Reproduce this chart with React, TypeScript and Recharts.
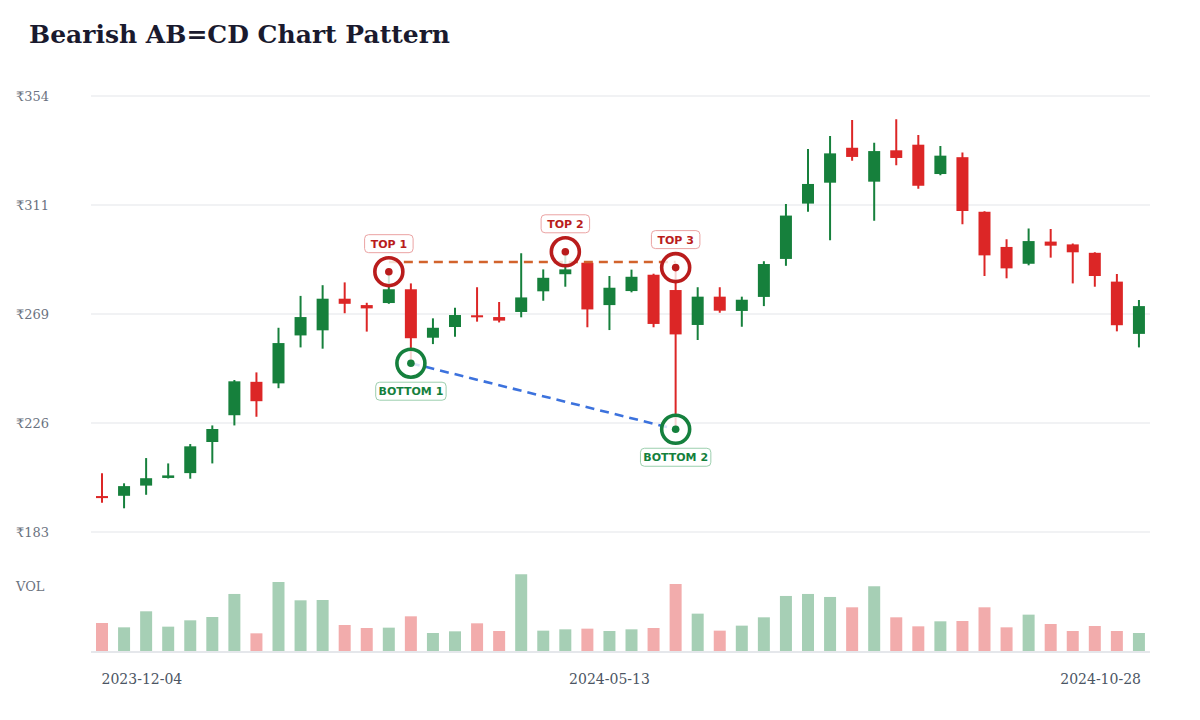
import React from 'react';
import {
  ComposedChart,
  Bar,
  XAxis,
  YAxis,
  CartesianGrid,
  ReferenceLine,
  ReferenceDot,
  Cell,
} from 'recharts';

const dates = [
  '2023-12-04', '2023-12-11', '2023-12-18', '2023-12-25', '2024-01-01', '2024-01-08',
  '2024-01-15', '2024-01-22', '2024-01-29', '2024-02-05', '2024-02-12', '2024-02-19',
  '2024-02-26', '2024-03-04', '2024-03-11', '2024-03-18', '2024-03-25', '2024-04-01',
  '2024-04-08', '2024-04-15', '2024-04-22', '2024-04-29', '2024-05-06', '2024-05-13',
  '2024-05-20', '2024-05-27', '2024-06-03', '2024-06-10', '2024-06-17', '2024-06-24',
  '2024-07-01', '2024-07-08', '2024-07-15', '2024-07-22', '2024-07-29', '2024-08-05',
  '2024-08-12', '2024-08-19', '2024-08-26', '2024-09-02', '2024-09-09', '2024-09-16',
  '2024-09-23', '2024-09-30', '2024-10-07', '2024-10-14', '2024-10-21', '2024-10-28',
];

const opens = [
  197.1, 197.2, 201.2, 204.2, 206.1, 218.3, 228.8, 241.9, 241.3, 260.1, 262.1, 274.5,
  272.0, 272.8, 278.2, 259.2, 263.4, 268.0, 267.3, 269.3, 277.4, 284.1, 288.6, 272.0,
  277.5, 283.9, 277.9, 264.2, 275.3, 269.7, 275.2, 290.1, 311.8, 320.0, 333.7, 320.4,
  332.7, 334.9, 323.4, 330.0, 308.6, 294.8, 288.2, 296.9, 295.8, 292.5, 281.2, 260.7,
];
const highs = [
  206.0, 202.1, 212.0, 209.9, 217.5, 224.8, 242.6, 245.6, 263.1, 275.6, 279.8, 280.9,
  272.9, 285.1, 280.5, 266.8, 271.0, 279.0, 273.2, 292.3, 286.0, 292.9, 289.0, 283.4,
  285.9, 284.3, 286.7, 279.0, 279.0, 275.3, 289.2, 311.6, 333.2, 338.3, 344.6, 335.7,
  344.9, 338.7, 334.4, 331.8, 308.8, 297.8, 302.0, 301.8, 296.2, 292.7, 284.2, 274.0,
];
const lows = [
  194.5, 192.3, 197.6, 204.0, 203.9, 209.9, 224.8, 228.2, 239.4, 255.4, 254.9, 268.8,
  261.6, 272.5, 249.2, 256.7, 259.6, 265.5, 265.2, 267.2, 273.7, 279.2, 263.3, 262.2,
  277.0, 263.3, 223.3, 258.3, 269.0, 263.5, 271.6, 287.4, 308.6, 297.4, 328.6, 305.1,
  326.8, 317.6, 322.9, 303.7, 283.4, 282.5, 287.6, 290.6, 280.5, 279.2, 261.7, 255.4,
];
const closes = [
  196.3, 201.0, 204.1, 205.2, 216.6, 223.4, 242.1, 234.3, 257.1, 267.3, 274.5, 272.5,
  270.7, 278.2, 259.0, 263.1, 268.1, 267.2, 265.9, 275.0, 282.7, 286.0, 270.3, 278.8,
  283.1, 264.6, 260.5, 275.3, 269.8, 274.1, 288.1, 307.1, 319.5, 331.5, 330.1, 332.4,
  329.7, 318.8, 330.6, 308.9, 291.5, 286.4, 297.1, 295.3, 292.7, 283.4, 264.1, 271.6,
];
const volumes = [
  8.7, 7.4, 12.2, 7.6, 9.5, 10.5, 17.4, 5.6, 21.0, 15.5, 15.6, 8.1,
  7.2, 7.3, 10.7, 5.7, 6.2, 8.6, 6.3, 23.3, 6.4, 6.8, 7.0, 6.3,
  6.8, 7.2, 20.4, 11.5, 6.4, 7.9, 10.4, 16.8, 17.4, 16.5, 13.4, 19.7,
  10.4, 7.7, 9.2, 9.3, 13.4, 7.4, 11.2, 8.4, 6.3, 7.8, 6.3, 5.7,
];

const priceTicks = [183, 225.75, 268.5, 311.25, 354];
const dateTicks = ['2023-12-04', '2024-05-13', '2024-10-28'];

const topMarkers = [
  { date: '2024-03-04', price: 285.1, label: 'TOP 1' },
  { date: '2024-04-29', price: 292.9, label: 'TOP 2' },
  { date: '2024-06-03', price: 286.7, label: 'TOP 3' },
];
const bottomMarkers = [
  { date: '2024-03-11', price: 249.2, label: 'BOTTOM 1' },
  { date: '2024-06-03', price: 223.3, label: 'BOTTOM 2' },
];
const resistanceLevel = 288.9;

const UP = '#16803c';
const DOWN = '#dc2626';

const data = dates.map((date, i) => ({
  date,
  open: opens[i],
  high: highs[i],
  low: lows[i],
  close: closes[i],
  vol: volumes[i],
}));

const FONT = '"DejaVu Serif", serif';

const CandleShape = (props: any) => {
  const { x, y, width, height, payload } = props;
  if (!payload) return null;
  const { open, close, high, low } = payload;
  const top = Math.min(y, y + height);
  const h = Math.abs(height);
  const ratio = h / (high - low);
  const cx = x + width / 2;
  const yO = top + (high - open) * ratio;
  const yC = top + (high - close) * ratio;
  const color = close >= open ? UP : DOWN;
  const bodyTop = Math.min(yO, yC);
  const bodyH = Math.max(Math.abs(yO - yC), 2);
  return (
    <g>
      <line x1={cx} x2={cx} y1={top} y2={top + h} stroke={color} strokeWidth={2} />
      <rect x={x} y={bodyTop} width={width} height={bodyH} fill={color} />
    </g>
  );
};

const makeMarker = (label: string, color: string, border: string, below: boolean) => (p: any) => {
  const { cx, cy } = p;
  if (cx == null || cy == null) return null;
  const w = label.length * 7.3 + 12;
  const ly = below ? cy + 28 : cy - 28;
  return (
    <g>
      <circle cx={cx} cy={cy} r={14} fill="#ffffff" fillOpacity={0.8} stroke={color} strokeWidth={3.6} />
      <circle cx={cx} cy={cy} r={3.8} fill={color} />
      <rect x={cx - w / 2} y={ly - 9} width={w} height={18} rx={4} ry={4} fill="#ffffff" stroke={border} strokeWidth={1} />
      <text
        x={cx}
        y={ly}
        dy={4}
        textAnchor="middle"
        fontFamily='"DejaVu Sans", sans-serif'
        fontWeight={700}
        fontSize={11}
        fill={color}
      >
        {label}
      </text>
    </g>
  );
};

const XTick = (props: any) => {
  const { x, y, payload } = props;
  const v = payload.value;
  const anchor = v === dateTicks[0] ? 'start' : v === dateTicks[dateTicks.length - 1] ? 'end' : 'middle';
  const dx = anchor === 'start' ? -0.5 : anchor === 'end' ? 2 : 0;
  return (
    <text x={x + dx} y={y} dy={32} textAnchor={anchor} fontFamily={FONT} fontSize={14} fill="#4b5563">
      {v}
    </text>
  );
};

const YTick = (props: any) => {
  const { y, payload } = props;
  return (
    <text x={16} y={y} dy={5} textAnchor="start" fontFamily={FONT} fontSize={13} fill="#6b7280">
      {'₹' + Math.round(payload.value)}
    </text>
  );
};

export default function App() {
  return (
    <div style={{ position: 'absolute', left: 0, top: 0, width: 1200, height: 720, background: '#fff' }}>
      <div
        style={{
          position: 'absolute',
          left: 29,
          top: 20,
          fontFamily: FONT,
          fontWeight: 700,
          fontSize: 25,
          lineHeight: '30px',
          color: '#1a1a2e',
          whiteSpace: 'nowrap',
        }}
      >
        Bearish AB=CD Chart Pattern
      </div>
      <div
        style={{
          position: 'absolute',
          left: 16,
          top: 579,
          fontFamily: FONT,
          fontSize: 13,
          lineHeight: '16px',
          color: '#6b7280',
        }}
      >
        VOL
      </div>
      <ComposedChart
        width={1200}
        height={720}
        data={data}
        margin={{ top: 96, right: 50, bottom: 28, left: 16 }}
        style={{ position: 'absolute', left: 0, top: 0 }}
      >
        <CartesianGrid vertical={false} yAxisId="price" xAxisId="main" stroke="#eceef1" strokeWidth={1.5} />
        <XAxis
          xAxisId="main"
          dataKey="date"
          ticks={dateTicks}
          interval={0}
          tick={<XTick />}
          tickLine={false}
          tickSize={0}
          tickMargin={0}
          height={40}
          axisLine={{ stroke: '#e5e7eb', strokeWidth: 2 }}
        />
        <XAxis xAxisId="p" dataKey="date" hide />
        <YAxis
          yAxisId="price"
          domain={[135.94, 354]}
          ticks={priceTicks}
          allowDataOverflow
          width={75}
          tick={<YTick />}
          tickLine={false}
          axisLine={false}
        />
        <YAxis yAxisId="vol" domain={[0, 166.7]} allowDataOverflow hide />
        <Bar xAxisId="main" yAxisId="vol" dataKey="vol" barSize={12} isAnimationActive={false}>
          {data.map((d, i) => (
            <Cell key={i} fill={d.close >= d.open ? UP : DOWN} fillOpacity={0.38} />
          ))}
        </Bar>
        <Bar
          xAxisId="p"
          yAxisId="price"
          dataKey={(d: any) => [d.low, d.high]}
          barSize={12}
          shape={<CandleShape />}
          isAnimationActive={false}
        />
        <ReferenceLine
          xAxisId="p"
          yAxisId="price"
          segment={[
            { x: topMarkers[0].date, y: resistanceLevel },
            { x: topMarkers[2].date, y: resistanceLevel },
          ]}
          stroke="#d2632c"
          strokeWidth={2.6}
          strokeDasharray="9 6"
        />
        <ReferenceLine
          xAxisId="p"
          yAxisId="price"
          segment={[
            { x: bottomMarkers[0].date, y: bottomMarkers[0].price },
            { x: bottomMarkers[1].date, y: bottomMarkers[1].price },
          ]}
          stroke="#3c72dd"
          strokeWidth={2.6}
          strokeDasharray="9 6"
        />
        {topMarkers.map((m) => (
          <ReferenceDot
            key={m.label}
            xAxisId="p"
            yAxisId="price"
            x={m.date}
            y={m.price}
            r={14}
            shape={makeMarker(m.label, '#b91c1c', '#eba3a3', false)}
          />
        ))}
        {bottomMarkers.map((m) => (
          <ReferenceDot
            key={m.label}
            xAxisId="p"
            yAxisId="price"
            x={m.date}
            y={m.price}
            r={14}
            shape={makeMarker(m.label, '#15803d', '#9ccfae', true)}
          />
        ))}
      </ComposedChart>
    </div>
  );
}
